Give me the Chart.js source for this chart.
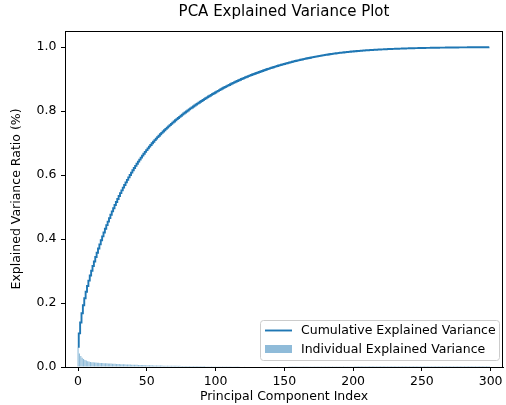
<!DOCTYPE html>
<html>
<head>
<meta charset="utf-8">
<script src="https://cdn.jsdelivr.net/npm/chart.js@4"></script>
<style>
  body { margin: 0; background: #fff; }
  canvas { display: block; }
</style>
</head>
<body>
<canvas id="pcaChart" width="506" height="405"></canvas>
<script>
// DATA - individual explained variance ratio per component
let individual = [
    0.063, 0.042, 0.034, 0.029, 0.025, 0.022, 0.020, 0.018, 0.017, 0.016,
    0.015, 0.0146, 0.0142, 0.01386, 0.01353, 0.0132, 0.01289, 0.01258, 0.01227, 0.01198,
    0.01169, 0.01141, 0.01114, 0.01087, 0.01061, 0.01035, 0.0101, 0.00986, 0.00963, 0.00939,
    0.00917, 0.00895, 0.00873, 0.00852, 0.00832, 0.00812, 0.00792, 0.00773, 0.00755, 0.00737,
    0.00719, 0.00702, 0.00685, 0.00669, 0.00653, 0.00637, 0.00622, 0.00607, 0.00592, 0.00578,
    0.00564, 0.0055, 0.00537, 0.00524, 0.00512, 0.005, 0.00488, 0.00476, 0.00465, 0.00453,
    0.00442, 0.00432, 0.00421, 0.00415, 0.00409, 0.00403, 0.00397, 0.00391, 0.00385, 0.00379,
    0.00374, 0.00368, 0.00363, 0.00357, 0.00352, 0.00347, 0.00341, 0.00336, 0.00331, 0.00326,
    0.00322, 0.00317, 0.00312, 0.00307, 0.00303, 0.00298, 0.00294, 0.0029, 0.00286, 0.00283,
    0.0028, 0.0028, 0.0028, 0.0027, 0.0027, 0.0027, 0.0026, 0.0026, 0.0026, 0.0025,
    0.0025, 0.0025, 0.0025, 0.0024, 0.0024, 0.0024, 0.0023, 0.0023, 0.0023, 0.0022,
    0.0022, 0.0022, 0.0021, 0.0021, 0.0021, 0.0020, 0.0020, 0.0020, 0.0019, 0.0019,
    0.0019, 0.0018, 0.0018, 0.0018, 0.0018, 0.0017, 0.0017, 0.0017, 0.0017, 0.0016,
    0.0016, 0.0016, 0.0016, 0.0015, 0.0015, 0.0015, 0.00150, 0.00148, 0.00146, 0.00144,
    0.00142, 0.00140, 0.00138, 0.00136, 0.00134, 0.00132, 0.00130, 0.00128, 0.00126, 0.00124,
    0.00122, 0.00120, 0.00118, 0.00116, 0.00114, 0.00112, 0.00110, 0.00108, 0.00106, 0.00104,
    0.00102, 0.00100, 0.00099, 0.00097, 0.00096, 0.00094, 0.00093, 0.00091, 0.00090, 0.00088,
    0.00087, 0.00085, 0.00084, 0.00082, 0.00081, 0.00079, 0.00078, 0.00077, 0.00075, 0.00074,
    0.00072, 0.00071, 0.00070, 0.00068, 0.00064, 0.000622, 0.000605, 0.000588, 0.000571, 0.000555,
    0.00054, 0.000525, 0.00051, 0.000496, 0.000482, 0.000468, 0.000455, 0.000443, 0.00043, 0.000418,
    0.000407, 0.000395, 0.000384, 0.000374, 0.000363, 0.000353, 0.000343, 0.000334, 0.000324, 0.000315,
    0.000306, 0.000298, 0.00029, 0.000282, 0.000274, 0.000266, 0.000259, 0.000251, 0.000244, 0.000238,
    0.000231, 0.000225, 0.000218, 0.000212, 0.000206, 0.0002, 0.000195, 0.00019, 0.000184, 0.000179,
    0.000174, 0.000169, 0.000164, 0.00016, 0.000155, 0.000151, 0.000147, 0.000143, 0.000139, 0.000135,
    0.000131, 0.000127, 0.000124, 0.00012, 0.000117, 0.000114, 0.000111, 0.000108, 0.000105, 0.000102,
    0.000099, 0.000096, 0.000093, 0.000091, 0.000088, 0.000086, 0.000083, 0.000081, 0.000079, 0.000077,
    0.000075, 0.000072, 0.00007, 0.000068, 0.000067, 0.000065, 0.000063, 0.000061, 0.00006, 0.000058,
    0.000056, 0.000055, 0.000053, 0.000052, 0.00005, 0.000049, 0.000048, 0.000046, 0.000045, 0.000044,
    0.000043, 0.000041, 0.00004, 0.000039, 0.000038, 0.000037, 0.000036, 0.000035, 0.000034, 0.000033,
    0.000032, 0.000031, 0.00003, 0.000029, 0.000029, 0.000028, 0.000027, 0.000026, 0.000026, 0.000025
];

// TICKS / LABELS
let xTicks = [0, 50, 100, 150, 200, 250, 300];
let yTicks = [0.0, 0.2, 0.4, 0.6, 0.8, 1.0];
let seriesNames = ["Cumulative Explained Variance", "Individual Explained Variance"];

let blue = "#1f77b4";
let blueFill = "rgba(31, 119, 180, 0.5)";
let font = "'DejaVu Sans', sans-serif";

// CUMULATIVE (running sum of the individual ratios)
let running = 0;
let cumulative = individual.map(v => (running += v));

let barPoints = individual.map((v, i) => ({ x: i, y: v }));
let linePoints = cumulative.map((v, i) => ({ x: i, y: v }));

// top + right spines and the legend box inside the plot
let framePlugin = {
    id: "frame",
    afterDraw(chart) {
        let ctx = chart.ctx;
        let a = chart.chartArea;
        ctx.save();
        ctx.strokeStyle = "#000";
        ctx.lineWidth = 1;
        ctx.beginPath();
        ctx.moveTo(a.left, a.top + 0.5);
        ctx.lineTo(a.right, a.top + 0.5);
        ctx.moveTo(a.right - 0.5, a.top);
        ctx.lineTo(a.right - 0.5, a.bottom);
        ctx.stroke();

        // legend
        let bx = a.right - 243, by = a.bottom - 47, bw = 239, bh = 40;
        ctx.fillStyle = "rgba(255,255,255,0.8)";
        ctx.strokeStyle = "#cccccc";
        ctx.beginPath();
        ctx.roundRect(bx + 0.5, by + 0.5, bw, bh, 3);
        ctx.fill();
        ctx.stroke();

        ctx.strokeStyle = blue;
        ctx.lineWidth = 1.9;
        ctx.beginPath();
        ctx.moveTo(bx + 5, by + 10.5);
        ctx.lineTo(bx + 32, by + 10.5);
        ctx.stroke();

        ctx.fillStyle = blueFill;
        ctx.fillRect(bx + 5, by + 25, 27, 8);

        ctx.fillStyle = "#000";
        ctx.font = "12.5px " + font;
        ctx.textBaseline = "middle";
        ctx.fillText(seriesNames[0], bx + 41, by + 11);
        ctx.fillText(seriesNames[1], bx + 41, by + 30);
        ctx.restore();
    }
};

new Chart(document.getElementById("pcaChart"), {
    type: "bar",
    data: {
        datasets: [
            {
                type: "line",
                label: seriesNames[0],
                data: linePoints,
                borderColor: blue,
                borderWidth: 1.9,
                pointRadius: 0,
                stepped: "middle",
                fill: false,
                order: 0
            },
            {
                type: "bar",
                label: seriesNames[1],
                data: barPoints,
                backgroundColor: blueFill,
                borderWidth: 0,
                barPercentage: 1.0,
                categoryPercentage: 0.8,
                order: 1
            }
        ]
    },
    options: {
        responsive: false,
        animation: false,
        devicePixelRatio: 1,
        layout: { padding: { right: 3 } },
        plugins: {
            legend: { display: false },
            tooltip: { enabled: false },
            title: {
                display: true,
                text: "PCA Explained Variance Plot",
                fullSize: false,
                color: "#000",
                font: { family: font, size: 15, weight: "normal" },
                padding: { top: 3, bottom: 10 }
            }
        },
        scales: {
            x: {
                type: "linear",
                offset: false,
                min: -9.5,
                max: 309,
                afterFit(scale) { scale.height = 38; },
                afterBuildTicks(scale) { scale.ticks = xTicks.map(v => ({ value: v })); },
                ticks: {
                    color: "#000",
                    font: { family: font, size: 12.5 },
                    padding: 3,
                    maxRotation: 0,
                    callback: v => String(v)
                },
                grid: { offset: false, drawOnChartArea: false, drawTicks: true, tickLength: 4, tickColor: "#000" },
                border: { display: true, color: "#000", width: 1 },
                title: {
                    display: true,
                    text: "Principal Component Index",
                    color: "#000",
                    font: { family: font, size: 12.5 },
                    padding: { top: 0, bottom: 0.5 }
                }
            },
            y: {
                type: "linear",
                min: 0,
                max: 1.05,
                afterFit(scale) { scale.width = 65; },
                afterBuildTicks(scale) { scale.ticks = yTicks.map(v => ({ value: v })); },
                ticks: {
                    color: "#000",
                    font: { family: font, size: 12.5 },
                    padding: 4.5,
                    callback: v => v.toFixed(1)
                },
                grid: { offset: false, drawOnChartArea: false, drawTicks: true, tickLength: 4, tickColor: "#000" },
                border: { display: true, color: "#000", width: 1 },
                title: {
                    display: true,
                    text: "Explained Variance Ratio (%)",
                    color: "#000",
                    font: { family: font, size: 12.5 },
                    padding: { top: 9.5, bottom: 0 }
                }
            }
        }
    },
    plugins: [framePlugin]
});
</script>
</body>
</html>
